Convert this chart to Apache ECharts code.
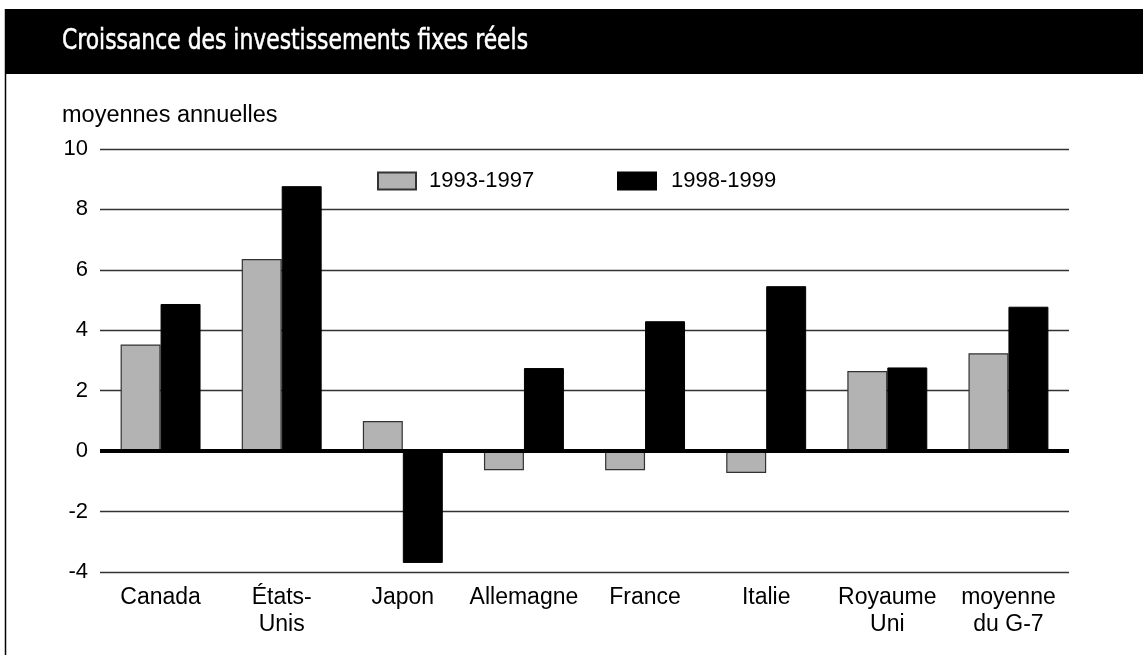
<!DOCTYPE html>
<html>
<head>
<meta charset="utf-8">
<script src="https://cdn.jsdelivr.net/npm/echarts@6/dist/echarts.min.js"></script>
<style>
html,body{margin:0;padding:0;background:#fff;}
#chart{width:1143px;height:655px;}
</style>
</head>
<body>
<div id="chart"></div>
<script>
const categories = ['Canada', 'États-\nUnis', 'Japon', 'Allemagne', 'France', 'Italie', 'Royaume\nUni', 'moyenne\ndu G-7'];
const series1993 = [3.53, 6.36, 1.0, -0.63, -0.63, -0.72, 2.65, 3.24];
const series1998 = [4.87, 8.77, -3.70, 2.75, 4.3, 5.46, 2.77, 4.78];
const seriesNames = ['1993-1997', '1998-1999'];
const yTicks = { min: -4, max: 10, interval: 2 };
const titleText = 'Croissance des investissements fixes réels';
const unitText = 'moyennes annuelles';

const chart = echarts.init(document.getElementById('chart'), null, { renderer: 'canvas' });
const font = "'Liberation Sans', Arial, sans-serif";
const fs = 22;

chart.setOption({
  animation: false,
  backgroundColor: '#fff',
  graphic: [
    { type: 'rect', left: 5, top: 9, shape: { width: 1138, height: 65 }, style: { fill: '#000' }, z: 0 },
    { type: 'line', shape: { x1: 5.5, y1: 9, x2: 5.5, y2: 655 }, style: { stroke: '#000', lineWidth: 1.5 }, z: 0 },
    { type: 'text', x: 62, y: 42, scaleX: 0.868, style: { x: 0, y: 0, text: titleText, fill: '#fff', stroke: '#fff', lineWidth: 0.5, verticalAlign: 'middle', align: 'left', font: "28px 'DejaVu Sans Condensed', sans-serif" }, z: 5 },
    { type: 'text', left: 62, top: 104, style: { text: unitText, fill: '#000', font: "23.5px 'Liberation Sans', Arial, sans-serif" }, z: 5 }
  ],
  legend: [
    { left: 377, top: 170, padding: 0, itemWidth: 38, itemHeight: 17, data: [seriesNames[0]], textStyle: { fontFamily: font, fontSize: fs, color: '#000', padding: [0, 0, 0, 8] }, selectedMode: false, icon: 'rect' },
    { left: 617, top: 170, padding: 0, itemWidth: 38, itemHeight: 17, data: [seriesNames[1]], textStyle: { fontFamily: font, fontSize: fs, color: '#000', padding: [0, 0, 0, 10] }, selectedMode: false, icon: 'rect' }
  ],
  grid: { left: 100, right: 74, top: 149, bottom: 83, containLabel: false },
  xAxis: {
    type: 'category',
    data: categories,
    axisLine: { show: false, onZero: false },
    axisTick: { show: false },
    axisLabel: { fontFamily: font, fontSize: 23, color: '#000', margin: 12, lineHeight: 27, interval: 0 },
    splitLine: { show: false }
  },
  yAxis: {
    type: 'value',
    min: yTicks.min, max: yTicks.max, interval: yTicks.interval,
    axisLine: { show: false },
    axisTick: { show: false },
    axisLabel: { fontFamily: font, fontSize: fs, color: '#000', margin: 12 },
    splitLine: { show: true, lineStyle: { color: '#333', width: 1.3 } }
  },
  series: [
    {
      name: seriesNames[0], type: 'bar', data: series1993,
      barGap: '0%', barCategoryGap: '34%',
      itemStyle: { color: '#b3b3b3', borderColor: '#333', borderWidth: 1.2 },
      markLine: {
        silent: true, symbol: 'none', label: { show: false },
        lineStyle: { color: '#000', width: 4, type: 'solid' },
        data: [{ yAxis: 0 }], z: 10
      }
    },
    {
      name: seriesNames[1], type: 'bar', data: series1998,
      barGap: '0%', barCategoryGap: '34%',
      itemStyle: { color: '#000', borderColor: '#000', borderWidth: 1 }
    }
  ]
});
</script>
</body>
</html>
